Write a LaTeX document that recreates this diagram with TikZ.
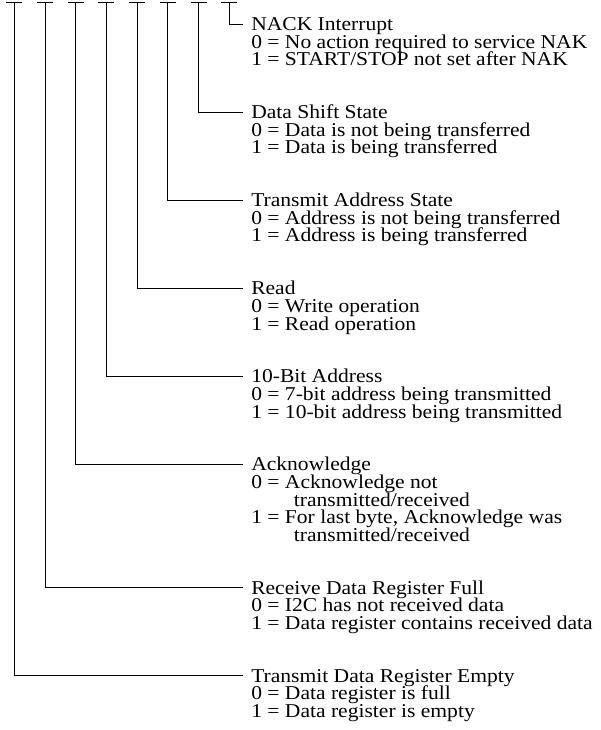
\documentclass[tikz,border=0pt]{standalone}
\usepackage{fontspec}
\setmainfont{Liberation Serif}[FakeStretch=1.1]
\usetikzlibrary{calc}
\newcommand{\txtfont}{\fontsize{14.7pt}{13.2pt}\selectfont}
\tikzset{
  hdr/.style={inner sep=0pt, anchor=base west, text height=9.7pt, text depth=0pt, font=\txtfont},
  desc/.style={inner sep=0pt, anchor=base west, font=\txtfont},
  wire/.style={line width=0.75pt},
}
\newcommand{\dlines}[1]{\vtop{\baselineskip=13.2pt\lineskiplimit=-100pt\lineskip=0pt\halign{##\hfil\cr#1\crcr}}}
\begin{document}
\begin{tikzpicture}[x=0.75pt,y=-0.75pt]
\useasboundingbox (0,0) rectangle (600,730);
% bit tops
\foreach \i in {0,...,7}{
  \coordinate (b\i) at ({14.3+30.7*\i},2.5);
  \draw[wire] ([xshift=-6pt]b\i) -- ([xshift=6pt]b\i);
}
% headers (baseline = line y + 6.5)
\node[hdr] (h7) at (251,{24.3+17.6*0+6.5}) {NACK Interrupt};
\node[hdr] (h6) at (251,{24.3+17.6*5+6.5}) {Data Shift State};
\node[hdr] (h5) at (251,{24.3+17.6*10+6.5}) {Transmit Address State};
\node[hdr] (h4) at (251,{24.3+17.6*15+6.5}) {Read};
\node[hdr] (h3) at (251,{24.3+17.6*20+6.5}) {10-Bit Address};
\node[hdr] (h2) at (251,{24.3+17.6*25+6.5}) {Acknowledge};
\node[hdr] (h1) at (251,{24.3+17.6*32+6.5}) {Receive Data Register Full};
\node[hdr] (h0) at (251,{24.3+17.6*37+6.5}) {Transmit Data Register Empty};
% descriptions
\node[desc] (d7) at ([yshift=-13.2pt]h7.base west) {\dlines{0 = No action required to service NAK\cr 1 = START/STOP not set after NAK}};
\node[desc] (d6) at ([yshift=-13.2pt]h6.base west) {\dlines{0 = Data is not being transferred\cr 1 = Data is being transferred}};
\node[desc] (d5) at ([yshift=-13.2pt]h5.base west) {\dlines{0 = Address is not being transferred\cr 1 = Address is being transferred}};
\node[desc] (d4) at ([yshift=-13.2pt]h4.base west) {\dlines{0 = Write operation\cr 1 = Read operation}};
\node[desc] (d3) at ([yshift=-13.2pt]h3.base west) {\dlines{0 = 7-bit address being transmitted\cr 1 = 10-bit address being transmitted}};
\node[desc] (d2) at ([yshift=-13.2pt]h2.base west) {\dlines{0 = Acknowledge not\cr \hspace*{32pt}transmitted/received\cr 1 = For last byte, Acknowledge was\cr \hspace*{32pt}transmitted/received}};
\node[desc] (d1) at ([yshift=-13.2pt]h1.base west) {\dlines{0 = I2C has not received data\cr 1 = Data register contains received data}};
\node[desc] (d0) at ([yshift=-13.2pt]h0.base west) {\dlines{0 = Data register is full\cr 1 = Data register is empty}};
% connectors
\foreach \i in {0,...,7}{
  \draw[wire] (b\i) |- ([xshift=-6pt]h\i.west);
}
\end{tikzpicture}
\end{document}
